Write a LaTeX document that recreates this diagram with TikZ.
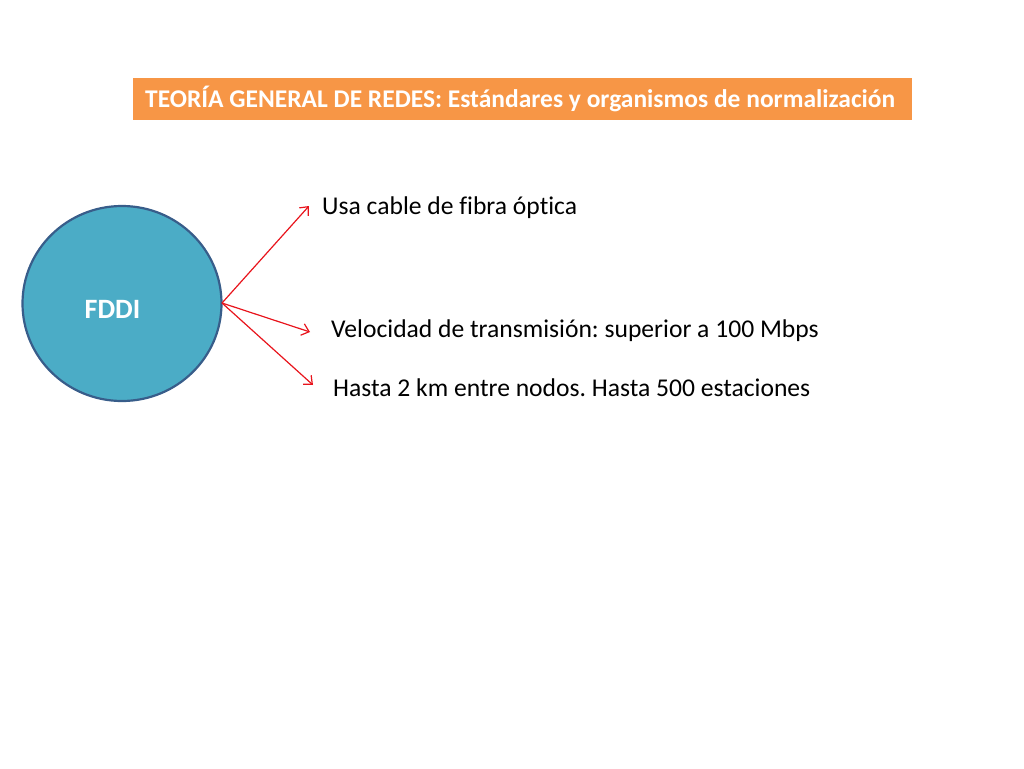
\documentclass[tikz,border=0pt]{standalone}
\usepackage{fontspec}
\setmainfont{Carlito}[Ligatures={NoCommon}]
\usetikzlibrary{arrows.meta,shapes.geometric}
\definecolor{titlebg}{HTML}{F79646}
\definecolor{circfill}{HTML}{4BACC6}
\definecolor{circline}{HTML}{385D8A}
\definecolor{arrred}{HTML}{E8141C}
\tikzset{
  txt/.style={anchor=west, inner sep=0pt, font=\fontsize{25.6}{30}\selectfont},
  arr/.style={draw=arrred, line width=1.2pt, -{Straight Barb[length=7pt,width=12pt]}}
}
\frenchspacing
\begin{document}
\frenchspacing
\begin{tikzpicture}[x=1pt,y=-1pt]
\useasboundingbox (0,0) rectangle (1024,768);
\node[fill=titlebg, minimum width=779pt, minimum height=42pt, inner sep=0pt, anchor=north west,
      text=white, font=\bfseries\fontsize{25.5}{30}\selectfont] (title) at (133,78)
      {\hspace{-5pt}TEORÍA GENERAL DE REDES: Estándares y organismos de normalización};
\node[ellipse, draw=circline, line width=2.2pt, fill=circfill, minimum width=199pt, minimum height=195pt,
      inner sep=0pt] (fddi) at (122,303.5) {};
\node[text=white, font=\bfseries\fontsize{28}{32}\selectfont] (fddilbl) at (112.5,309) {FDDI};
\coordinate (src) at (222,303);
\node[txt] (t1) at (322,208) {Usa cable de fibra óptica};
\node[txt] (t2) at (331,331) {Velocidad de transmisión: superior a 100 Mbps};
\node[txt] (t3) at (333,388) {Hasta 2 km entre nodos. Hasta 500 estaciones};
\coordinate (e1) at (309,206);
\coordinate (e2) at (310,332);
\coordinate (e3) at (313,385);
\draw[arr] (src) -- (e1);
\draw[arr] (src) -- (e2);
\draw[arr] (src) -- (e3);
\end{tikzpicture}
\end{document}
